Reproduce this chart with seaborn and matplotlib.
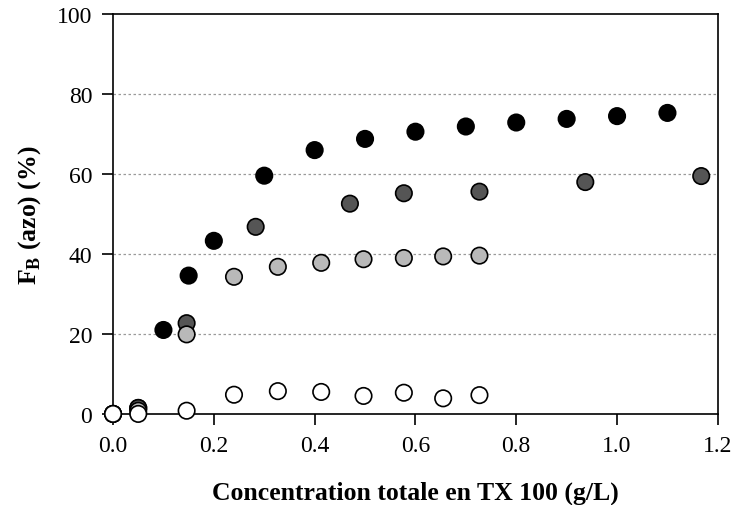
import pandas as pd
import numpy as np
import seaborn as sns
import matplotlib
matplotlib.use("Agg")
import matplotlib.pyplot as plt

# series
x_black = [0.0, 0.05, 0.1, 0.15, 0.2, 0.3, 0.4, 0.5, 0.6, 0.7, 0.8, 0.9, 1.0, 1.1]
y_black = [0.0, 1.5, 21.0, 34.6, 43.3, 59.6, 66.0, 68.8, 70.6, 71.9, 72.9, 73.8, 74.5, 75.3]

x_dark = [0.0, 0.05, 0.146, 0.283, 0.47, 0.577, 0.727, 0.937, 1.167]
y_dark = [0.0, 1.5, 22.7, 46.8, 52.6, 55.2, 55.6, 58.0, 59.5]

x_light = [0.0, 0.05, 0.146, 0.24, 0.327, 0.413, 0.497, 0.577, 0.655, 0.727]
y_light = [0.0, 0.8, 19.9, 34.3, 36.8, 37.8, 38.7, 39.0, 39.4, 39.6]

x_white = [0.0, 0.05, 0.146, 0.24, 0.327, 0.413, 0.497, 0.577, 0.655, 0.727]
y_white = [0.0, 0.0, 0.8, 4.8, 5.7, 5.5, 4.5, 5.3, 3.9, 4.7]

series_names = ["noir", "gris fonce", "gris clair", "blanc"]
series_colors = ["#000000", "#555555", "#b9b9b9", "#ffffff"]

x_ticks = [0.0, 0.2, 0.4, 0.6, 0.8, 1.0, 1.2]
y_ticks = [0, 20, 40, 60, 80, 100]

df = pd.concat([
    pd.DataFrame({"x": x_black, "y": y_black, "serie": series_names[0]}),
    pd.DataFrame({"x": x_dark, "y": y_dark, "serie": series_names[1]}),
    pd.DataFrame({"x": x_light, "y": y_light, "serie": series_names[2]}),
    pd.DataFrame({"x": x_white, "y": y_white, "serie": series_names[3]}),
], ignore_index=True)

sns.set_style("ticks")
plt.rcParams["font.family"] = ["Liberation Serif", "DejaVu Serif"]
plt.rcParams["mathtext.fontset"] = "custom"
plt.rcParams["mathtext.rm"] = "Liberation Serif"
plt.rcParams["mathtext.bf"] = "Liberation Serif:bold"
plt.rcParams["text.color"] = "black"
plt.rcParams["axes.labelcolor"] = "black"

fig = plt.figure(figsize=(7.34, 5.06), dpi=100)
ax = fig.add_axes([0.154, 0.180, 0.824, 0.790])

for y in y_ticks[1:-1]:
    ax.axhline(y, color="#9a9a9a", lw=0.9, ls=(0, (2, 2)), zorder=0)

sns.scatterplot(data=df, x="x", y="y", hue="serie", palette=dict(zip(series_names, series_colors)),
                hue_order=series_names, s=140, edgecolor="black", linewidth=1.2,
                legend=False, clip_on=False, zorder=3, ax=ax)

ax.set_xlim(0, 1.2)
ax.set_ylim(0, 100)
ax.set_xticks(x_ticks)
ax.set_xticklabels([f"{v:.1f}" for v in x_ticks])
ax.set_yticks(y_ticks)
ax.tick_params(direction="out", length=8, width=1.2, labelsize=17, colors="black", pad=7)
for sp in ax.spines.values():
    sp.set_linewidth(1.2)
    sp.set_color("black")

ax.set_xlabel("Concentration totale en TX 100 (g/L)", fontsize=18.5, fontweight="bold", labelpad=18)
ax.set_ylabel(r"F$_\mathbf{B}$ (azo) (%)", fontsize=18.5, fontweight="bold", labelpad=10)

fig.savefig("out.png", dpi=100)
